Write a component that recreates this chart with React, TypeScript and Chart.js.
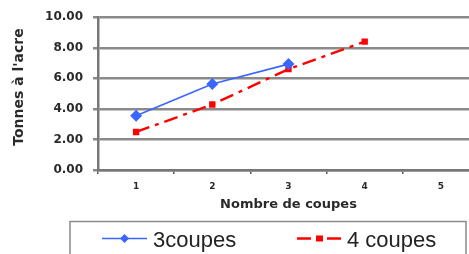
import React, { useEffect, useRef } from 'react';
import { Chart, registerables } from 'chart.js';

Chart.register(...registerables);

const categories = ['1', '2', '3', '4', '5'];
const series3coupes = [3.55, 5.63, 6.93, null, null];
const series4coupes = [2.49, 4.29, 6.6, 8.4, null];
const seriesNames = ['3coupes', '4 coupes'];
const yTicks = [0, 2, 4, 6, 8, 10];
const yTitle = "Tonnes à l'acre";
const xTitle = 'Nombre de coupes';

const BOLD = '"DejaVu Sans", Verdana, sans-serif';

const legendPlugin = {
  id: 'boxLegend',
  afterDraw(chart: any) {
    const ctx = chart.ctx as CanvasRenderingContext2D;
    ctx.save();
    // y title
    ctx.save();
    ctx.translate(19, 87);
    ctx.rotate(-Math.PI / 2);
    ctx.font = `bold 14px ${BOLD}`;
    ctx.fillStyle = '#2a2a2a';
    ctx.textAlign = 'center';
    ctx.textBaseline = 'middle';
    ctx.fillText(yTitle, 0, 0);
    ctx.restore();

    // legend box
    ctx.strokeStyle = '#8a8a8a';
    ctx.lineWidth = 1.5;
    ctx.strokeRect(70, 221.5, 396, 50);
    const items = [
      { x0: 102, x1: 147, tx: 153 },
      { x0: 297, x1: 342, tx: 347 },
    ];
    chart.data.datasets.forEach((ds: any, i: number) => {
      const it = items[i];
      const y = 238.5;
      ctx.strokeStyle = ds.borderColor;
      ctx.lineWidth = ds.borderWidth;
      ctx.setLineDash(ds.borderDash || []);
      ctx.beginPath();
      ctx.moveTo(it.x0, y);
      ctx.lineTo(it.x1, y);
      ctx.stroke();
      ctx.setLineDash([]);
      const cx = (it.x0 + it.x1) / 2;
      ctx.fillStyle = ds.pointBackgroundColor;
      ctx.beginPath();
      if (ds.pointStyle === 'rectRot') {
        const r = 4.5;
        ctx.moveTo(cx, y - r);
        ctx.lineTo(cx + r, y);
        ctx.lineTo(cx, y + r);
        ctx.lineTo(cx - r, y);
        ctx.closePath();
      } else {
        ctx.rect(cx - 3.5, y - 3, 7, 6);
      }
      ctx.fill();
      ctx.fillStyle = '#222';
      ctx.font = '22px "Liberation Sans", Arial, sans-serif';
      ctx.textAlign = 'left';
      ctx.textBaseline = 'alphabetic';
      ctx.fillText(ds.label, it.tx, 246.5);
    });
    ctx.restore();
  },
};

export default function App() {
  const ref = useRef<HTMLCanvasElement>(null);
  useEffect(() => {
    if (!ref.current) return;
    const chart = new Chart(ref.current, {
      type: 'line',
      data: {
        labels: categories,
        datasets: [
          {
            label: seriesNames[0],
            data: series3coupes,
            borderColor: '#3a66ff',
            backgroundColor: '#3a66ff',
            pointBackgroundColor: '#3a66ff',
            pointBorderColor: '#3a66ff',
            borderWidth: 1.6,
            pointStyle: 'rectRot',
            pointRadius: 6,
            pointBorderWidth: 0,
            tension: 0,
            spanGaps: false,
          },
          {
            label: seriesNames[1],
            data: series4coupes,
            borderColor: '#ff0000',
            backgroundColor: '#ff0000',
            pointBackgroundColor: '#ff0000',
            pointBorderColor: '#ff0000',
            borderWidth: 2.4,
            borderDash: [14, 6, 4, 6],
            pointStyle: 'rect',
            pointRadius: 4.5,
            pointBorderWidth: 0,
            tension: 0,
          },
        ] as any,
      },
      options: {
        animation: false,
        responsive: false,
        maintainAspectRatio: false,
        layout: { padding: { top: 16, right: 12, bottom: 42, left: 0 } },
        plugins: {
          legend: { display: false },
          tooltip: { enabled: false },
        },
        scales: {
          x: {
            type: 'category',
            offset: true,
            grid: {
              drawOnChartArea: false,
              drawTicks: true,
              tickLength: 4,
              color: '#555',
              lineWidth: 1.5,
              offset: true,
            },
            border: { color: '#777', width: 2.5 },
            ticks: {
              color: '#2a2a2a',
              font: { family: BOLD, size: 9, weight: 'bold' },
              padding: 7,
              maxRotation: 0,
            },
            title: {
              display: true,
              text: xTitle,
              color: '#2a2a2a',
              font: { family: BOLD, size: 13, weight: 'bold' },
              padding: { top: 0, bottom: 0 },
            },
            afterFit(scale: any) {
              scale.height = 42;
            },
          },
          y: {
            min: 0,
            max: 10,
            afterBuildTicks(scale: any) {
              scale.ticks = yTicks.map((v) => ({ value: v }));
            },
            grid: {
              color: '#8a8a8a',
              lineWidth: 2.5,
              tickLength: 5,
              drawTicks: true,
            },
            border: { color: '#777', width: 2.5 },
            ticks: {
              color: '#2a2a2a',
              font: { family: BOLD, size: 12, weight: 'bold' },
              padding: 10,
              callback: (v: any) => Number(v).toFixed(2),
            },
            afterFit(scale: any) {
              scale.width = 98;
            },
          },
        },
      } as any,
      plugins: [legendPlugin],
    });
    return () => chart.destroy();
  }, []);
  return (
    <div
      style={{
        position: 'absolute',
        left: 0,
        top: 0,
        width: 469,
        height: 254,
        overflow: 'hidden',
        background: '#fff',
      }}
    >
      <canvas ref={ref} width={491} height={254} style={{ display: 'block' }} />
    </div>
  );
}
